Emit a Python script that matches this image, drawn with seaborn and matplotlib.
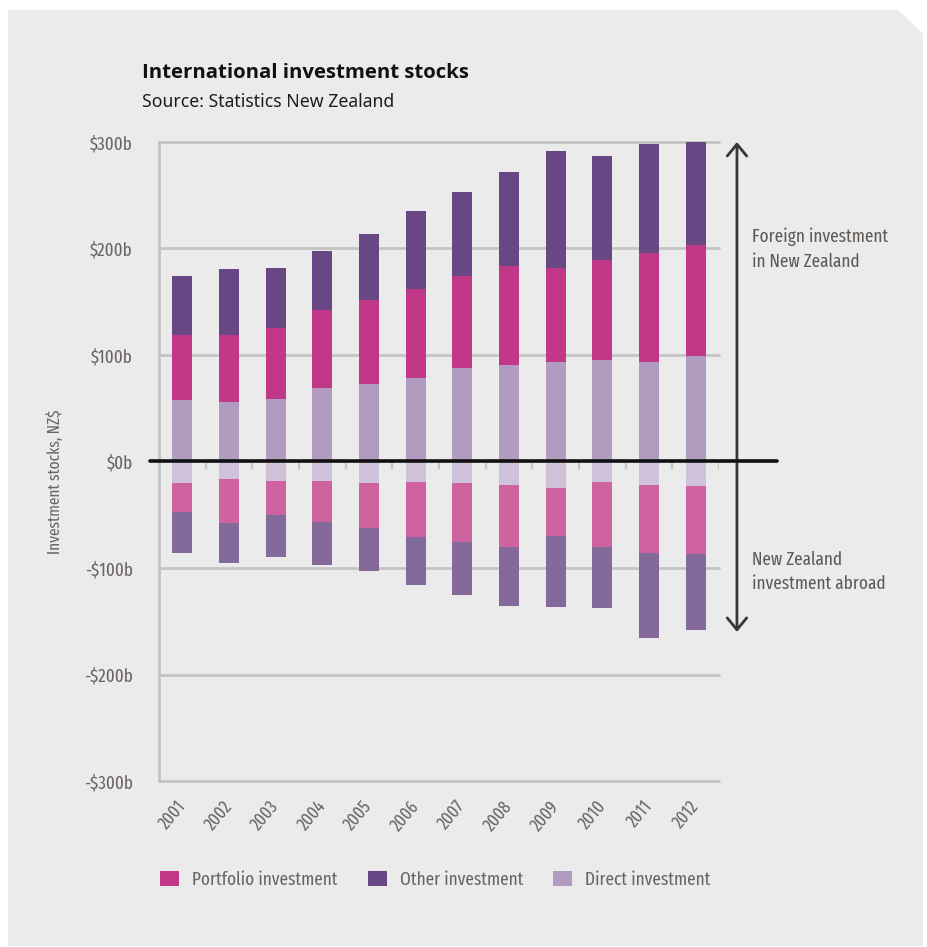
import os
import numpy as np
import pandas as pd
import matplotlib
matplotlib.use("Agg")
import matplotlib.pyplot as plt
from matplotlib.patches import Polygon, Patch
from matplotlib import font_manager as fm
import seaborn as sns

# ---------------------------------------------------------------- data ($b)
years = [str(y) for y in range(2001, 2013)]

# Foreign investment in New Zealand
direct_in = [58, 56, 59, 69, 73, 78, 88, 91, 93, 95, 93, 99]
portfolio_in = [61, 63, 66, 73, 79, 84, 86, 93, 89, 94, 103, 104]
other_in = [55, 62, 57, 56, 62, 73, 79, 88, 110, 98, 102, 97]

# New Zealand investment abroad
direct_out = [20, 16, 18, 18, 20, 19, 20, 22, 25, 19, 22, 23]
portfolio_out = [27, 42, 32, 39, 42, 52, 56, 58, 45, 61, 64, 64]
other_out = [39, 37, 40, 40, 41, 45, 49, 56, 67, 58, 80, 71]

y_ticks = [-300, -200, -100, 0, 100, 200, 300]
y_tick_labels = ["-$300b", "-$200b", "-$100b", "$0b", "$100b", "$200b", "$300b"]

series_names = ["Portfolio investment", "Other investment", "Direct investment"]

# ---------------------------------------------------------------- colours
C_PORT = "#c13889"
C_OTHER = "#674784"
C_DIRECT = "#b19cc0"
C_PORT_NEG = "#ce639f"
C_OTHER_NEG = "#84699b"
C_DIRECT_NEG = "#d0c1da"
C_PANEL = "#ebebeb"
C_GRID = "#c4c4c4"
C_TEXT = "#6b6561"

plt.rcParams["text.parse_math"] = False


# ---------------------------------------------------------------- fonts
def _w(entry):
    w = entry.weight
    return w if isinstance(w, (int, float)) else fm.weight_dict.get(str(w), 400)


def find_face(patterns, wmin, wmax, fallback):
    """First installed face whose file name contains one of the patterns."""
    for pat in patterns:
        for f in fm.fontManager.ttflist:
            base = os.path.basename(f.fname).lower()
            if pat in base and "italic" not in base and wmin <= _w(f) <= wmax \
                    and "mono" not in base and "display" not in base:
                return fm.FontProperties(fname=f.fname)
    return fallback


F_COND = find_face(["notosans-extracondensed.", "extracondensed", "narrow",
                    "notosans-condensed.", "condensed"], 350, 450,
                   fm.FontProperties(family="Roboto"))
F_TITLE = find_face(["notosans-semicondensedbold.", "notosans-condensedbold.",
                     "notosans-bold.", "opensans-bold."], 650, 750,
                    fm.FontProperties(family="DejaVu Sans", weight="bold"))
F_SUB = find_face(["notosans-semicondensed.", "notosans-regular."], 350, 450,
                  fm.FontProperties(family="Noto Sans"))


def fp(base, size):
    p = base.copy()
    p.set_size(size)
    return p


# ---------------------------------------------------------------- figure
W, H = 927, 947
sns.set_theme(style="white")
fig = plt.figure(figsize=(W / 100, H / 100), dpi=100, facecolor="white")


def px(x, y):
    return x / W, 1 - y / H


# grey panel with a clipped top-right corner
panel = Polygon([px(8, 10), px(898, 10), px(923, 34), px(923, 946), px(8, 946)],
                closed=True, transform=fig.transFigure, facecolor=C_PANEL,
                edgecolor="none", zorder=-10)
fig.patches.append(panel)

left, right, top, bottom = 159, 719, 142, 781
ax = fig.add_axes([left / W, 1 - bottom / H, (right - left) / W, (bottom - top) / H])
ax.set_facecolor("none")
ax.set_zorder(1)

# stacked layers drawn from the outermost total inwards
d_in = np.array(direct_in)
p_in = np.array(portfolio_in)
o_in = np.array(other_in)
d_out = np.array(direct_out)
p_out = np.array(portfolio_out)
o_out = np.array(other_out)

layers = [
    (d_in + p_in + o_in, C_OTHER),
    (d_in + p_in, C_PORT),
    (d_in, C_DIRECT),
    (-(d_out + p_out + o_out), C_OTHER_NEG),
    (-(d_out + p_out), C_PORT_NEG),
    (-d_out, C_DIRECT_NEG),
]
for vals, col in layers:
    df = pd.DataFrame({"year": years, "value": vals})
    sns.barplot(data=df, x="year", y="value", color=col, saturation=1,
                width=0.43, errorbar=None, linewidth=0, ax=ax, zorder=2)

ax.set_xlim(-0.5, 11.5)
ax.set_ylim(-300, 300)
ax.set_xlabel("")
ax.set_ylabel("")

# gridlines
for yv in y_ticks:
    if yv != 0:
        ax.axhline(yv, color=C_GRID, lw=2, zorder=0.5, clip_on=False)

# zero line and small category ticks under it
ax.axhline(0, xmin=-0.016, xmax=1.104, color="#111111", lw=2.6,
           clip_on=False, zorder=4)
ax.vlines(np.arange(0.5, 11.6, 1.0), -7, -1.5, color=C_GRID, lw=1.6, zorder=1)

for s in ["top", "right", "bottom"]:
    ax.spines[s].set_visible(False)
ax.spines["left"].set_color(C_GRID)
ax.spines["left"].set_linewidth(2)
ax.spines["left"].set_zorder(0.6)

ax.set_yticks(y_ticks)
ax.set_yticklabels(y_tick_labels)
ax.tick_params(axis="y", length=7, width=2, color=C_GRID, pad=12)
for t in ax.get_yticklabels():
    t.set_fontproperties(fp(F_COND, 13.3))
    t.set_color(C_TEXT)

ax.set_xticks(range(len(years)))
ax.set_xticklabels(years, rotation=50, ha="right", va="center",
                   rotation_mode="anchor")
ax.tick_params(axis="x", length=0, pad=16)
for t in ax.get_xticklabels():
    t.set_fontproperties(fp(F_COND, 12.8))
    t.set_color(C_TEXT)

# double-headed arrow on the right
ax.annotate("", xy=(11.885, 300), xytext=(11.885, -160),
            arrowprops=dict(arrowstyle="<->,head_length=0.85,head_width=0.7",
                            mutation_scale=10, color="#3b3632", lw=2,
                            shrinkA=0, shrinkB=0),
            annotation_clip=False)

fig.text(*px(752, 249), "Foreign investment\nin New Zealand", ha="left",
         va="center", color="#5f5a56", fontproperties=fp(F_COND, 13.5),
         linespacing=1.45)
fig.text(*px(752, 572), "New Zealand\ninvestment abroad", ha="left",
         va="center", color="#5f5a56", fontproperties=fp(F_COND, 13.5),
         linespacing=1.45)

# titles
fig.text(*px(142, 73), "International investment stocks", ha="left",
         va="center", color="#111111", fontproperties=fp(F_TITLE, 14.7))
fig.text(*px(142, 102), "Source: Statistics New Zealand", ha="left",
         va="center", color="#1e1e1e", fontproperties=fp(F_SUB, 12.7))

fig.text(*px(55, 482), "Investment stocks, NZ$", rotation=90, ha="center",
         va="center", color=C_TEXT, fontproperties=fp(F_COND, 12))

# legend
handles = [Patch(facecolor=c, edgecolor="none") for c in (C_PORT, C_OTHER, C_DIRECT)]
fig.legend(handles, series_names, loc="center left",
           bbox_to_anchor=px(160, 880), ncol=3, frameon=False,
           prop=fp(F_COND, 13.5), labelcolor=C_TEXT,
           handlelength=1.0, handleheight=0.85, handletextpad=0.7,
           columnspacing=1.62, borderpad=0, borderaxespad=0)

fig.savefig("out.png", dpi=100, facecolor="white")
